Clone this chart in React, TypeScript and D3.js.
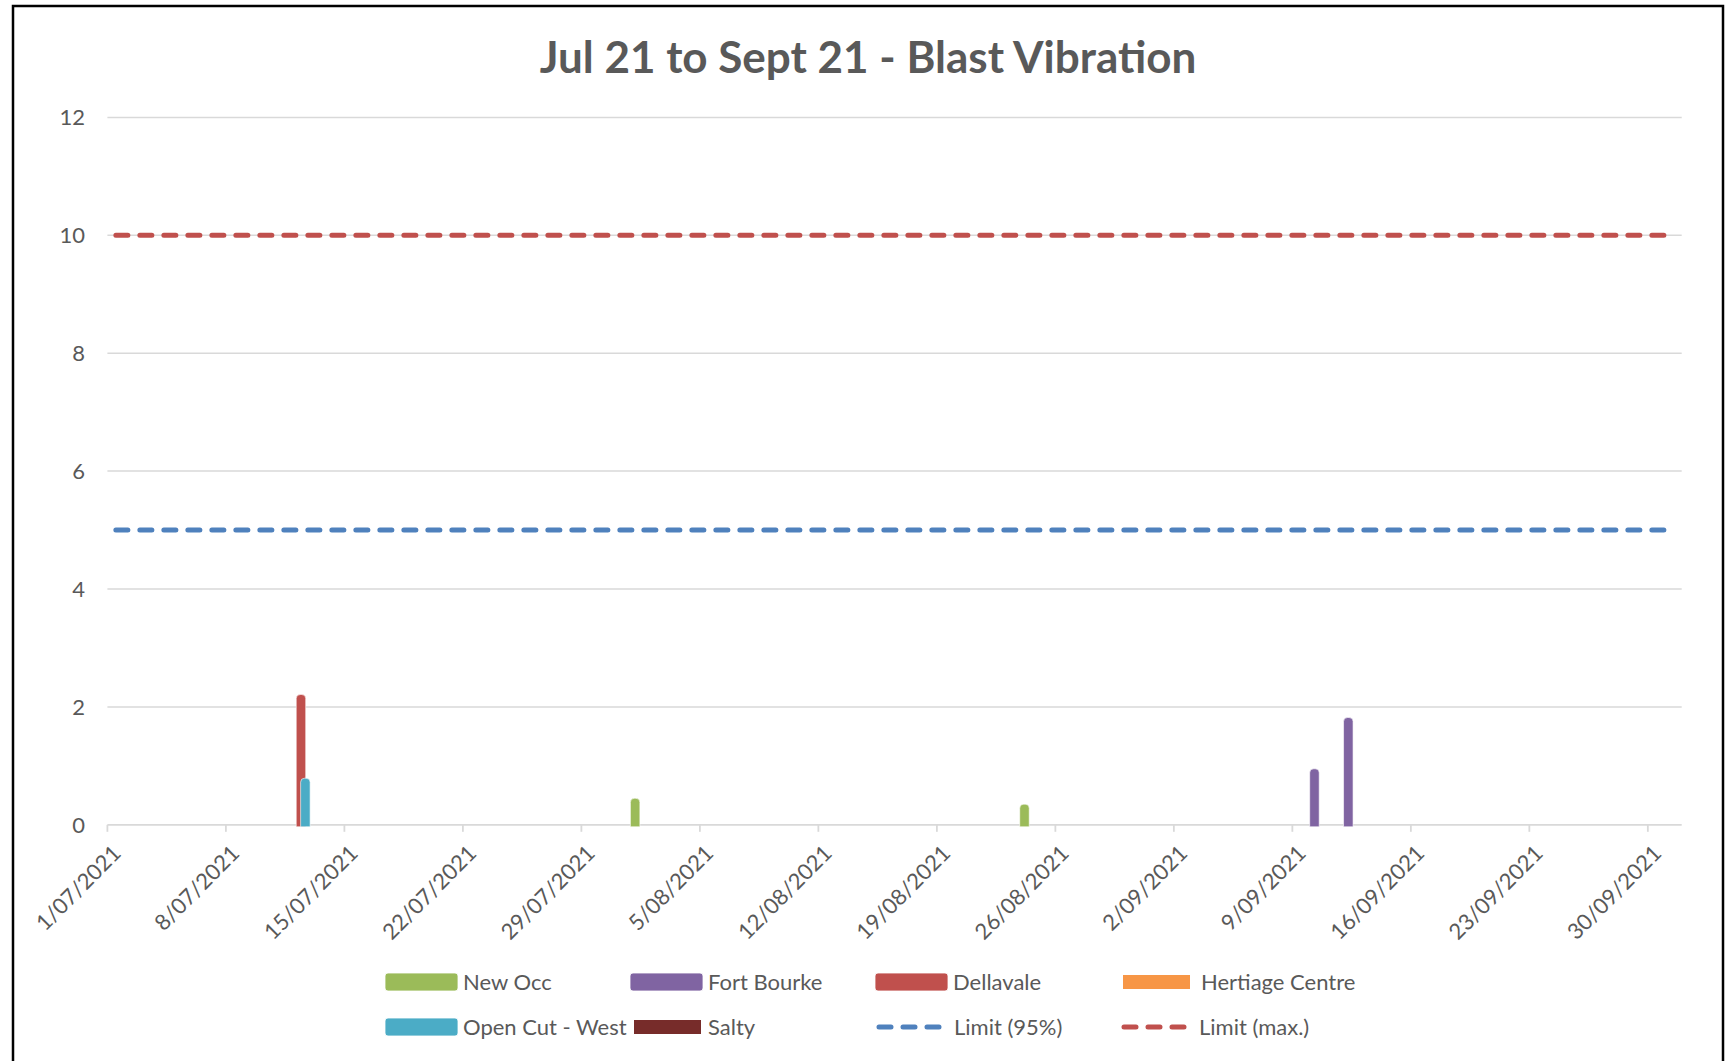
import React from "react";
import * as d3 from "d3";

// ---------- data ----------
const blastDates = ["2021-07-12", "2021-08-01", "2021-08-24", "2021-09-10", "2021-09-12"];
const newOcc = [null, 0.45, 0.35, null, null];
const fortBourke = [null, null, null, 0.95, 1.82];
const dellavale = [2.21, null, null, null, null];
const hertiageCentre = [null, null, null, null, null];
const openCutWest = [0.79, null, null, null, null];
const salty = [null, null, null, null, null];

const limitDates = ["2021-07-01", "2021-10-01"];
const limit95 = [5, 5];
const limitMax = [10, 10];

const yTicks = [0, 2, 4, 6, 8, 10, 12];
const axisStart = "2021-07-01";
const axisEnd = "2021-10-02";

const seriesNames = ["New Occ", "Fort Bourke", "Dellavale", "Hertiage Centre", "Open Cut - West", "Salty"];
const seriesValues = [newOcc, fortBourke, dellavale, hertiageCentre, openCutWest, salty];
const seriesColors = ["#9BBB59", "#8064A2", "#C0504D", "#F79646", "#4BACC6", "#772C2A"];

const W = 1736;
const H = 1061;
const FONT = "Lato, 'Open Sans', sans-serif";
const TEXT = "#595959";

export default function App() {
  const parse = d3.utcParse("%Y-%m-%d");
  const x = d3.scaleUtc().domain([parse(axisStart)!, parse(axisEnd)!]).range([107.4, 1681.7]);
  const y = d3.scaleLinear().domain([0, 12]).range([824.8, 117.4]);
  const dayW = x(d3.utcDay.offset(parse(axisStart)!, 1)) - x(parse(axisStart)!);
  const offset = d3.scalePoint<string>().domain(seriesNames).range([-5.5, 5.5]);
  const barW = 9.5;
  const fmt = d3.utcFormat("%-d/%m/%Y");
  const ticks = d3.utcDay.range(parse("2021-07-01")!, parse("2021-10-01")!, 7);

  const barPath = (cx: number, v: number) => {
    const x0 = cx - barW / 2;
    const x1 = cx + barW / 2;
    const yt = y(v);
    const yb = y(0) + 2;
    const r = Math.min(4, (yb - yt) / 2);
    return `M${x0},${yb} L${x0},${yt + r} Q${x0},${yt} ${x0 + r},${yt} L${x1 - r},${yt} Q${x1},${yt} ${x1},${yt + r} L${x1},${yb} Z`;
  };

  const lineGen = d3
    .line<[string, number]>()
    .x((d) => x(parse(d[0])!) + dayW / 2)
    .y((d) => y(d[1]));

  const legendRow1 = [
    { name: "New Occ", color: seriesColors[0], x: 385, kind: "box" },
    { name: "Fort Bourke", color: seriesColors[1], x: 630, kind: "box" },
    { name: "Dellavale", color: seriesColors[2], x: 875, kind: "box" },
    { name: "Hertiage Centre", color: seriesColors[3], x: 1123, kind: "flat" },
  ];
  const legendRow2 = [
    { name: "Open Cut - West", color: seriesColors[4], x: 385, kind: "box" },
    { name: "Salty", color: seriesColors[5], x: 634, kind: "flat" },
    { name: "Limit (95%)", color: "#4F81BD", x: 876, kind: "line" },
    { name: "Limit (max.)", color: "#C0504D", x: 1121, kind: "line" },
  ];

  const legendItem = (it: any, cy: number) => {
    const textX = it.x === 634 ? 708 : it.x === 630 ? 708 : it.x + 78;
    return (
      <g key={it.name}>
        {it.kind === "box" && (
          <rect x={it.x} y={cy - 9} width={73} height={18} rx={3} fill={it.color} stroke="#fff" strokeWidth={0.8} />
        )}
        {it.kind === "flat" && <rect x={it.x} y={cy - 7} width={67} height={14} fill={it.color} />}
        {it.kind === "line" && (
          <line x1={it.x + 3} x2={it.x + 63} y1={cy} y2={cy} stroke={it.color} strokeWidth={5} strokeDasharray="12 12" strokeLinecap="round" />
        )}
        <text x={textX} y={cy + 8} fontFamily={FONT} fontSize={22} fill={TEXT}>
          {it.name}
        </text>
      </g>
    );
  };

  return (
    <div style={{ position: "absolute", left: 0, top: 0 }}>
      <svg width={W} height={H} style={{ display: "block", background: "#fff" }}>
        <rect x={0} y={0} width={W} height={H} fill="#fff" />
        <rect x={13} y={6} width={1710} height={1070} fill="#fff" stroke="#000" strokeWidth={2.5} />
        <text x={868} y={73} textAnchor="middle" fontFamily={FONT} fontWeight="bold" fontSize={44} fill={TEXT}>
          Jul 21 to Sept 21 - Blast Vibration
        </text>

        {/* gridlines */}
        {yTicks.map((t) => (
          <g key={t}>
            {t > 0 && <line x1={107.4} x2={1681.7} y1={y(t)} y2={y(t)} stroke="#D9D9D9" strokeWidth={1.5} />}
            <text x={85} y={y(t) + 8} textAnchor="end" fontFamily={FONT} fontSize={22} fill={TEXT}>
              {t}
            </text>
          </g>
        ))}

        {/* x axis */}
        <line x1={107.4} x2={1681.7} y1={y(0)} y2={y(0)} stroke="#D9D9D9" strokeWidth={1.8} />
        {ticks.map((d) => (
          <g key={+d}>
            <line x1={x(d)} x2={x(d)} y1={y(0)} y2={y(0) + 7} stroke="#D9D9D9" strokeWidth={1.8} />
            <text
              transform={`translate(${x(d) + 15},${y(0) + 30}) rotate(-45)`}
              textAnchor="end"
              fontFamily={FONT}
              fontSize={22}
              fill={TEXT}
            >
              {fmt(d)}
            </text>
          </g>
        ))}

        {/* bars */}
        {seriesValues.map((vals, si) =>
          vals.map((v, i) =>
            v == null ? null : (
              <path
                key={`${si}-${i}`}
                d={barPath(x(parse(blastDates[i])!) + dayW / 2 + offset(seriesNames[si])!, v)}
                fill={seriesColors[si]}
                stroke="#fff"
                strokeWidth={0.6}
              />
            )
          )
        )}

        {/* limit lines */}
        <path
          d={lineGen(limitDates.map((d, i) => [d, limit95[i]]) as any)!}
          fill="none"
          stroke="#4F81BD"
          strokeWidth={5}
          strokeDasharray="12 12"
          strokeLinecap="round"
        />
        <path
          d={lineGen(limitDates.map((d, i) => [d, limitMax[i]]) as any)!}
          fill="none"
          stroke="#C0504D"
          strokeWidth={5}
          strokeDasharray="12 12"
          strokeLinecap="round"
        />

        {/* legend */}
        {legendRow1.map((it) => legendItem(it, 982))}
        {legendRow2.map((it) => legendItem(it, 1027))}
      </svg>
    </div>
  );
}
